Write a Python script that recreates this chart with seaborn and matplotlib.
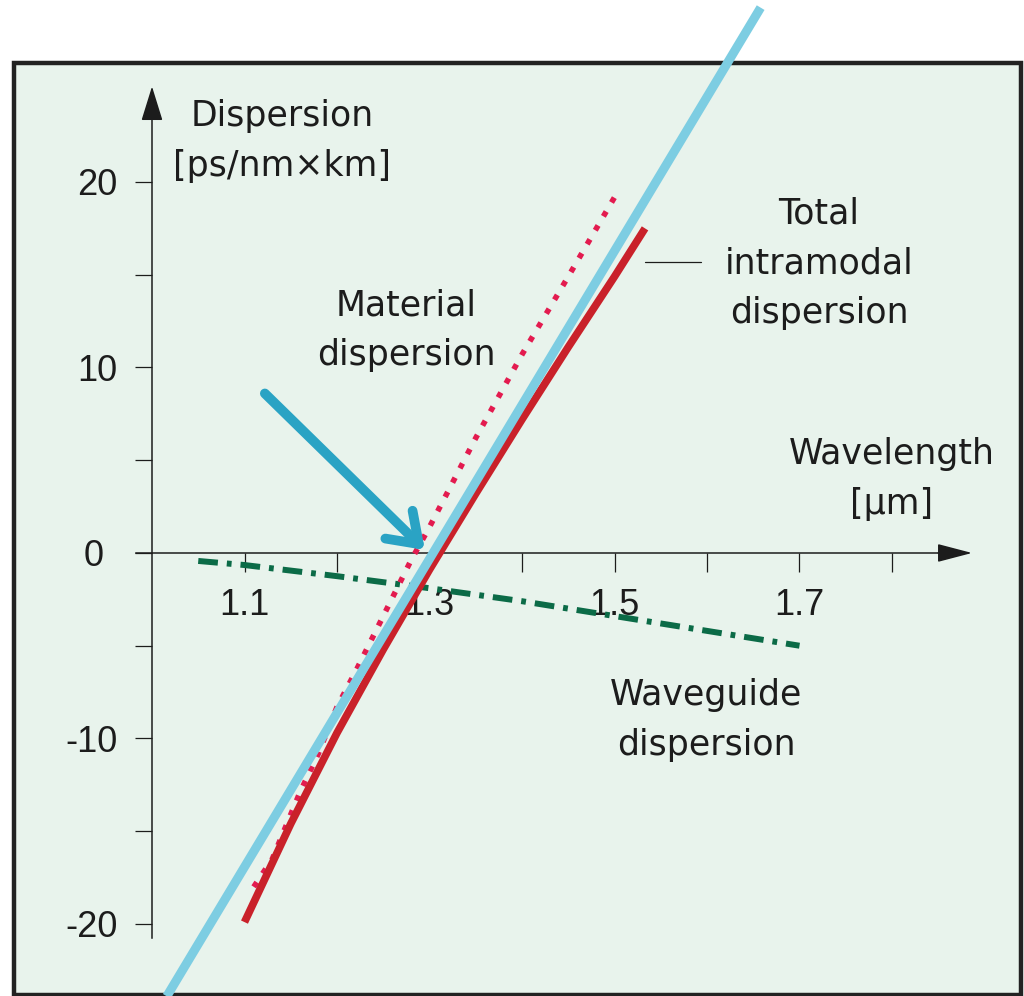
import matplotlib
matplotlib.use("Agg")
import matplotlib.pyplot as plt
import seaborn as sns
from matplotlib.patches import Rectangle

# ---------------- data ----------------
x_ticks = [1.1, 1.2, 1.3, 1.4, 1.5, 1.6, 1.7, 1.8]
x_tick_labels = ["1.1", "", "1.3", "", "1.5", "", "1.7", ""]
y_ticks = [-20, -15, -10, -5, 0, 5, 10, 15, 20]
y_tick_labels = ["-20", "", "-10", "", "0", "", "10", "", "20"]

waveguide_x = [1.05, 1.10, 1.20, 1.30, 1.40, 1.50, 1.60, 1.70]
waveguide_y = [-0.43, -0.65, -1.25, -1.9, -2.6, -3.4, -4.2, -5.0]

material_x = [1.11, 1.13, 1.16, 1.18, 1.20, 1.22, 1.25, 1.28, 1.30, 1.35, 1.40, 1.45, 1.505]
material_y = [-18.0, -16.5, -12.9, -10.8, -8.3, -6.4, -3.4, -0.4, 1.4, 6.2, 10.7, 14.9, 19.6]

total_x = [1.10, 1.15, 1.20, 1.25, 1.30, 1.35, 1.40, 1.45, 1.50, 1.533]
total_y = [-19.9, -14.6, -9.7, -5.2, -0.9, 3.2, 7.2, 11.1, 14.9, 17.5]

shifted_x = [1.016, 1.658]
shifted_y = [-23.9, 29.4]

arrow_tail = (1.122, 8.6)
arrow_tip = (1.295, 0.16)

leader_x = [1.533, 1.594]
leader_y = [15.7, 15.7]

labels = [
    ("Dispersion\n[ps/nm×km]", 1.1405, 22.2),
    ("Material\ndispersion", 1.2746, 12.0),
    ("Total\nintramodal\ndispersion", 1.7211, 15.6),
    ("Wavelength\n[µm]", 1.800, 4.0),
    ("Waveguide\ndispersion", 1.599, -9.0),
]

# ---------------- figure ----------------
sns.set_style("white")
plt.rcParams["font.family"] = ["DejaVu Sans"]

W, H = 1024, 996
fig = plt.figure(figsize=(W / 100, H / 100), dpi=100)
fig.patch.set_facecolor("white")
ax = fig.add_axes([14 / W, 1 - 995 / H, (1021 - 14) / W, (995 - 63) / H])
ax.set_facecolor("#e8f3ec")

ax.set_xlim(0.85081, 1.93946)
ax.set_ylim(-23.83, 26.415)

ink = "#1c1c1c"

# series
sns.lineplot(x=waveguide_x, y=waveguide_y, ax=ax, color="#0b6b47", lw=4.3,
             linestyle=(0, (3.3, 1.5, 0.8, 1.5)), zorder=3)
sns.lineplot(x=material_x, y=material_y, ax=ax, color="#e31b4f", lw=4.0,
             linestyle=(0, (1, 1.9)), zorder=3)
sns.lineplot(x=total_x, y=total_y, ax=ax, color="#c9212a", lw=5.5,
             solid_capstyle="butt", solid_joinstyle="round", zorder=4)
sns.lineplot(x=shifted_x, y=shifted_y, ax=ax, color="#7dcde2", lw=6.5,
             solid_capstyle="butt", clip_on=False, zorder=8)
sns.lineplot(x=leader_x, y=leader_y, ax=ax, color=ink, lw=0.9, zorder=3)

# pointer arrow
ax.annotate("", xy=arrow_tip, xytext=arrow_tail,
            arrowprops=dict(arrowstyle="->,head_length=1.0,head_width=0.7",
                            mutation_scale=20, lw=7, color="#2aa3c4",
                            shrinkA=0, shrinkB=0, capstyle="round",
                            joinstyle="round"), zorder=7)

# axes through origin
for s in ["top", "right"]:
    ax.spines[s].set_visible(False)
ax.spines["left"].set_position(("data", 1.0))
ax.spines["bottom"].set_position(("data", 0.0))
ax.spines["left"].set_bounds(-20.75, 24.0)
ax.spines["bottom"].set_bounds(0.983, 1.86)
for s in ["left", "bottom"]:
    ax.spines[s].set_color(ink)
    ax.spines[s].set_linewidth(1.1)
    ax.spines[s].set_zorder(2)

ax.annotate("", xy=(1.0, 25.15), xytext=(1.0, 23.5),
            arrowprops=dict(arrowstyle="-|>,head_length=1.45,head_width=0.45",
                            mutation_scale=15, lw=1.1, color=ink,
                            shrinkA=0, shrinkB=0))
ax.annotate("", xy=(1.8865, 0.0), xytext=(1.85, 0.0),
            arrowprops=dict(arrowstyle="-|>,head_length=1.45,head_width=0.38",
                            mutation_scale=15, lw=1.1, color=ink,
                            shrinkA=0, shrinkB=0))

ax.set_xticks(x_ticks)
ax.set_xticklabels(x_tick_labels, fontfamily="Liberation Sans")
ax.set_yticks(y_ticks)
ax.set_yticklabels(y_tick_labels, fontfamily="Liberation Sans")
ax.tick_params(axis="x", bottom=True, direction="out", length=14, width=0.9,
               pad=11.5, labelsize=26, colors=ink)
ax.tick_params(axis="y", left=True, direction="out", length=12, width=0.9,
               pad=13, labelsize=26, colors=ink)
ax.yaxis.get_major_ticks()[4].set_pad(23)
ax.set_xlabel("")
ax.set_ylabel("")

# panel border
ax.add_patch(Rectangle((0, 0), 1, 1, transform=ax.transAxes, fill=False,
                       ec="#222222", lw=3.2, clip_on=False, zorder=6))

for txt, tx, ty in labels:
    ax.text(tx, ty, txt, ha="center", va="center", fontsize=25,
            linespacing=1.58, color=ink, multialignment="center", zorder=5)

fig.savefig("out.png", dpi=100, facecolor="white")
